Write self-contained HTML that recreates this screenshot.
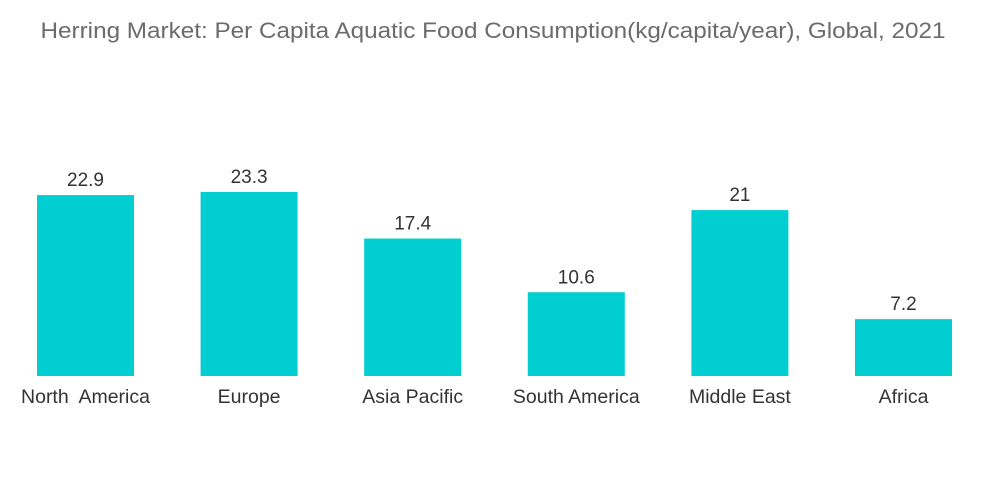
<!DOCTYPE html>
<html><head><meta charset="utf-8"><style>
body{margin:0;background:#fff;}
svg{display:block;font-family:"Liberation Sans",sans-serif;}
</style></head><body>
<svg id="chart" width="1000" height="504">
<text x="493" y="38" text-anchor="middle" font-size="22" textLength="905" lengthAdjust="spacingAndGlyphs" fill="#6b6b6b">Herring Market: Per Capita Aquatic Food Consumption(kg/capita/year), Global, 2021</text>
<g id="bars"></g>
</svg>
<script>
const categories=["North  America","Europe","Asia Pacific","South America","Middle East","Africa"];
const values=[22.9,23.3,17.4,10.6,21,7.2];
const valueLabels=["22.9","23.3","17.4","10.6","21","7.2"];
const baseY=376, pxPerUnit=7.9, firstCenter=85.5, step=163.6, barW=97;
const yScale=v=>baseY-v*pxPerUnit;
const xScale=i=>firstCenter+i*step;
const g=document.getElementById('bars');
const NS="http://www.w3.org/2000/svg";
categories.forEach((c,i)=>{
 const cx=xScale(i), top=yScale(values[i]);
 const r=document.createElementNS(NS,'rect');
 r.setAttribute('x',cx-barW/2);r.setAttribute('y',top);
 r.setAttribute('width',barW);r.setAttribute('height',baseY-top);
 r.setAttribute('fill','#00ced1');
 
 
 g.appendChild(r);
 const t=document.createElementNS(NS,'text');
 t.setAttribute('x',cx);t.setAttribute('y',top-9);
 t.setAttribute('text-anchor','middle');t.setAttribute('font-size','19');t.setAttribute('fill','#333');
 t.textContent=valueLabels[i];
 
 
 g.appendChild(t);
 const l=document.createElementNS(NS,'text');
 l.setAttribute('x',cx);l.setAttribute('y',403);
 l.setAttribute('text-anchor','middle');l.setAttribute('font-size','19.5');l.setAttribute('fill','#333');
 l.setAttribute('xml:space','preserve');l.style.whiteSpace='pre';
 l.textContent=c;
 
 
 g.appendChild(l);
});
</script>
</body></html>
